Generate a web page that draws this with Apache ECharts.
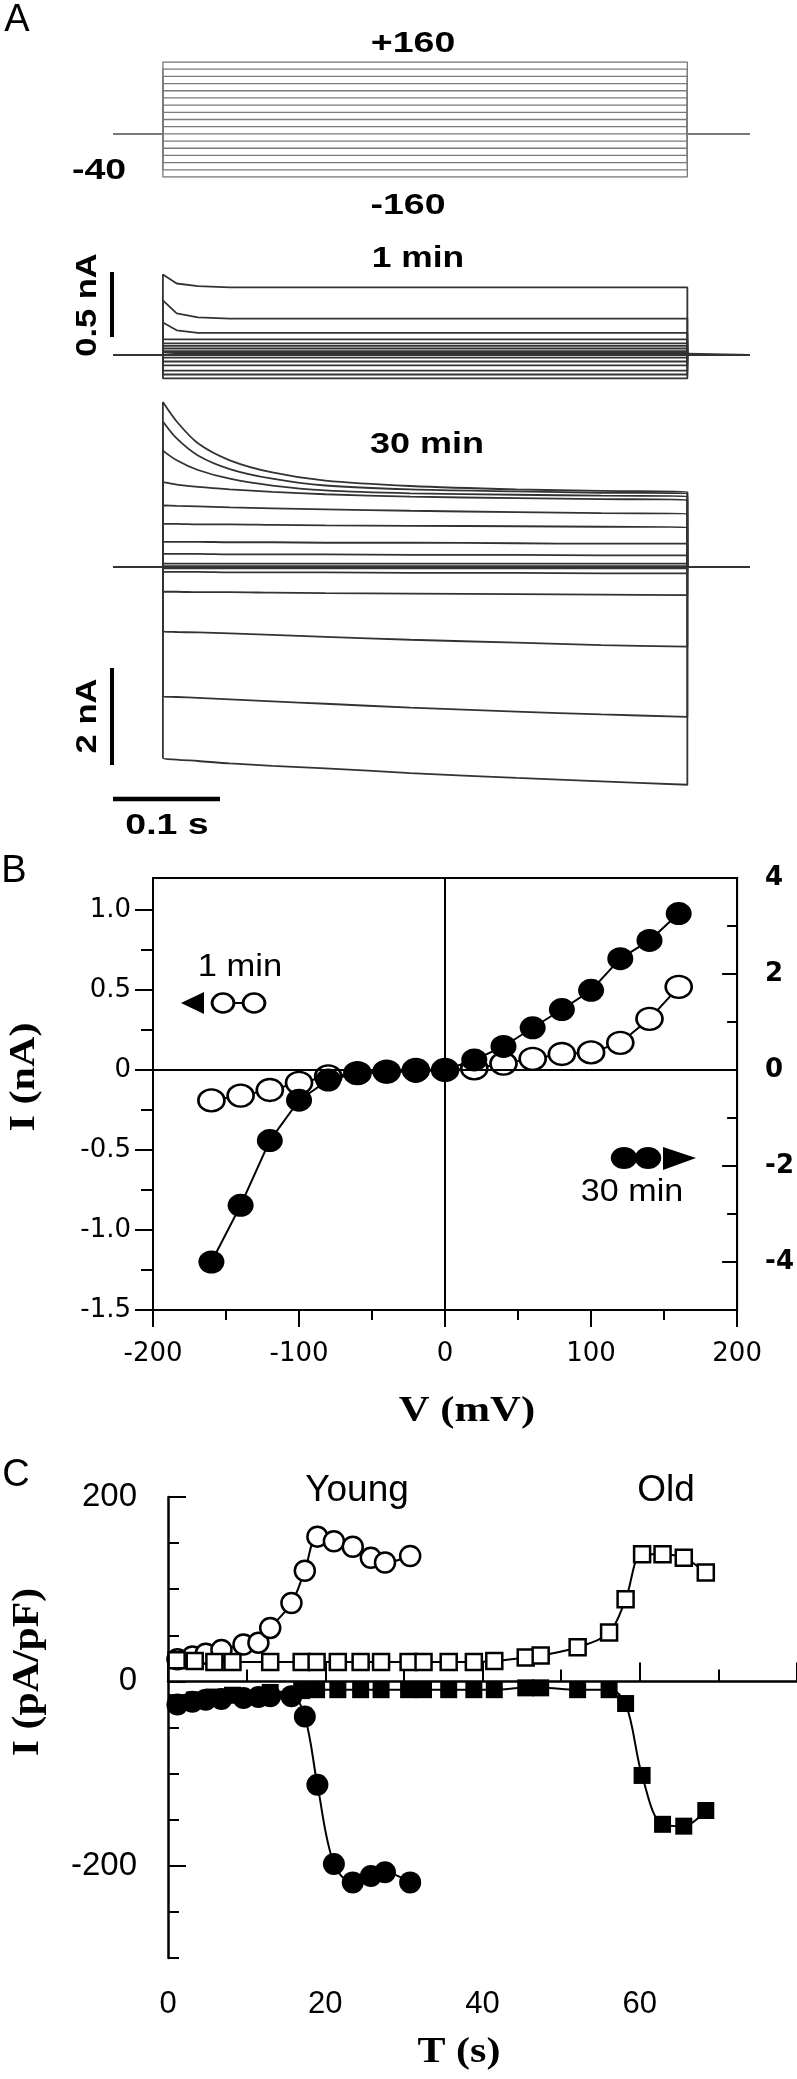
<!DOCTYPE html>
<html><head><meta charset="utf-8">
<script src="https://cdn.jsdelivr.net/npm/echarts@6/dist/echarts.min.js"></script>
<style>html,body{margin:0;padding:0;background:#fff}#c{width:797px;height:2079px}</style>
</head><body><div id="c"></div><script>
// ---------- Panel A : voltage protocol and current traces ----------
const stepVoltages = [-160,-140,-120,-100,-80,-60,-40,-20,0,20,40,60,80,100,120,140,160];
const holdingV = -40;
const protocolTimes = [0, 0.047, 0.541, 0.6];          // s : start, step on, step off, end
const sampleTimes = [0.047, 0.06, 0.08, 0.11, 0.15, 0.2, 0.28, 0.38, 0.46, 0.541];
// 1 min traces (nA), one row per step voltage
const current1min = [
  [-0.18,-0.18,-0.18,-0.18,-0.18,-0.18,-0.18,-0.18,-0.18,-0.18],
  [-0.15,-0.15,-0.15,-0.15,-0.15,-0.15,-0.15,-0.15,-0.15,-0.15],
  [-0.12,-0.12,-0.12,-0.12,-0.12,-0.12,-0.12,-0.12,-0.12,-0.12],
  [-0.08,-0.08,-0.08,-0.08,-0.08,-0.08,-0.08,-0.08,-0.08,-0.08],
  [-0.05,-0.05,-0.05,-0.05,-0.05,-0.05,-0.05,-0.05,-0.05,-0.05],
  [-0.02,-0.02,-0.02,-0.02,-0.02,-0.02,-0.02,-0.02,-0.02,-0.02],
  [0,0,0,0,0,0,0,0,0,0],
  [0.01,0.01,0.01,0.01,0.01,0.01,0.01,0.01,0.01,0.01],
  [0.02,0.02,0.02,0.02,0.02,0.02,0.02,0.02,0.02,0.02],
  [0.03,0.03,0.03,0.03,0.03,0.03,0.03,0.03,0.03,0.03],
  [0.05,0.05,0.05,0.05,0.05,0.05,0.05,0.05,0.05,0.05],
  [0.07,0.07,0.07,0.07,0.07,0.07,0.07,0.07,0.07,0.07],
  [0.09,0.09,0.09,0.09,0.09,0.09,0.09,0.09,0.09,0.09],
  [0.12,0.12,0.12,0.12,0.12,0.12,0.12,0.12,0.12,0.12],
  [0.25,0.19,0.17,0.17,0.17,0.17,0.17,0.17,0.17,0.17],
  [0.42,0.32,0.29,0.28,0.28,0.28,0.28,0.28,0.28,0.28],
  [0.62,0.55,0.53,0.52,0.52,0.52,0.52,0.52,0.52,0.52]
];
// 30 min traces (nA)
const current30min = [
  [-3.94,-3.97,-4.0,-4.05,-4.1,-4.15,-4.25,-4.35,-4.42,-4.49],
  [-2.67,-2.68,-2.7,-2.73,-2.77,-2.82,-2.9,-2.98,-3.04,-3.09],
  [-1.33,-1.34,-1.35,-1.37,-1.4,-1.44,-1.5,-1.56,-1.61,-1.64],
  [-0.51,-0.51,-0.52,-0.52,-0.53,-0.54,-0.55,-0.56,-0.57,-0.58],
  [-0.1,-0.1,-0.1,-0.11,-0.11,-0.11,-0.12,-0.12,-0.13,-0.13],
  [-0.03,-0.03,-0.03,-0.03,-0.03,-0.03,-0.03,-0.03,-0.03,-0.03],
  [0,0,0,0,0,0,0,0,0,0],
  [0.02,0.02,0.02,0.02,0.02,0.02,0.02,0.02,0.02,0.02],
  [0.07,0.07,0.07,0.07,0.07,0.07,0.07,0.07,0.07,0.07],
  [0.27,0.27,0.27,0.26,0.26,0.26,0.25,0.25,0.24,0.24],
  [0.52,0.52,0.52,0.51,0.51,0.5,0.5,0.49,0.48,0.48],
  [0.89,0.89,0.88,0.88,0.87,0.86,0.85,0.84,0.83,0.82],
  [1.27,1.26,1.25,1.23,1.21,1.19,1.16,1.13,1.11,1.1],
  [1.75,1.7,1.65,1.6,1.55,1.5,1.45,1.42,1.4,1.38],
  [2.4,2.2,2.0,1.82,1.68,1.58,1.52,1.49,1.47,1.46],
  [3.0,2.65,2.3,2.02,1.82,1.68,1.6,1.56,1.53,1.52],
  [3.4,3.0,2.55,2.2,1.95,1.78,1.67,1.6,1.57,1.55]
];

// ---------- Panel B : I-V relation ----------
const ivVoltage = [-160,-140,-120,-100,-80,-60,-40,-20,0,20,40,60,80,100,120,140,160];
const iv1min_nA = [-0.19,-0.16,-0.125,-0.08,-0.04,-0.02,-0.01,0,0,0.01,0.04,0.07,0.1,0.11,0.17,0.32,0.52];
const iv30min_nA = [-4.0,-2.82,-1.47,-0.63,-0.21,-0.07,-0.04,-0.03,0,0.21,0.49,0.88,1.26,1.66,2.32,2.7,3.26];
const ivLeftTicks = [-1.5,-1,-0.5,0,0.5,1];
const ivLeftMinor = [-1.25,-0.75,-0.25,0.25,0.75];
const ivRightTicks = [-4,-2,0,2,4];
const ivRightMinor = [-3,-1,1,3];

// ---------- Panel C : time course ----------
const youngT = [1.2,3.1,4.8,6.8,9.6,11.5,13.0,15.7,17.4,19.0,21.1,23.5,25.8,27.6,30.8];
const youngOut = [24,27,30,34,40,42,58,85,120,157,152,146,134,129,136];
const youngIn = [-25,-22,-20,-19,-18,-17,-16,-16,-38,-112,-198,-218,-211,-207,-218];
const oldT = [1.1,3.4,5.9,8.2,13.0,17.0,18.9,21.6,24.5,27.1,30.6,32.5,35.7,38.9,41.5,45.5,47.4,52.1,56.1,58.2,60.3,62.9,65.6,68.4];
const oldOut = [23,22,21,21,21,21,21,21,21,21,21,21,21,21,22,26,28,37,53,89,138,138,134,118];
const oldIn = [-23,-20,-17,-15,-12,-10,-9,-9,-9,-9,-9,-9,-9,-9,-9,-7,-7,-9,-9,-24,-102,-155,-157,-140];
const cLabelTicks = [-200,0,200];
const cMinorTicks = [-300,-250,-150,-100,-50,50,100,150];
const cTimeLabels = [0,20,40,60];

// ---------- build ----------
const zip = (a,b)=>a.map((v,i)=>[v,b[i]]);
const series = [];
stepVoltages.forEach(v=>{
  series.push({type:'line',xAxisIndex:0,yAxisIndex:0,symbol:'none',silent:true,animation:false,
    lineStyle:{color:'#7a7a7a',width:1.3},
    data:[[protocolTimes[0],holdingV],[protocolTimes[1],holdingV],[protocolTimes[1],v],[protocolTimes[2],v],[protocolTimes[2],holdingV],[protocolTimes[3],holdingV]]});
});
function traceData(vals){
  const d=[[protocolTimes[0],0],[protocolTimes[1],0]];
  sampleTimes.forEach((t,i)=>d.push([t,vals[i]]));
  d.push([protocolTimes[2],0],[protocolTimes[3],0]);
  return d;
}
current1min.forEach(r=>series.push({type:'line',xAxisIndex:1,yAxisIndex:1,symbol:'none',silent:true,animation:false,
  lineStyle:{color:'#333',width:1.8},data:traceData(r)}));
current30min.forEach(r=>series.push({type:'line',xAxisIndex:2,yAxisIndex:2,symbol:'none',silent:true,animation:false,smooth:0.3,
  lineStyle:{color:'#333',width:1.8},data:traceData(r)}));

series.push({name:'30 min',type:'line',xAxisIndex:3,yAxisIndex:5,data:zip(ivVoltage,iv30min_nA),
  symbol:'circle',symbolSize:[26,23],itemStyle:{color:'#000'},lineStyle:{color:'#000',width:2},animation:false,z:3,
  markLine:{silent:true,symbol:'none',label:{show:false},lineStyle:{color:'#000',width:2,type:'solid'},data:[{xAxis:0},{yAxis:0}],animation:false}});
series.push({name:'1 min',type:'line',xAxisIndex:3,yAxisIndex:3,data:zip(ivVoltage,iv1min_nA),
  symbol:'circle',symbolSize:[26,22],itemStyle:{color:'#fff',borderColor:'#000',borderWidth:2.5},lineStyle:{color:'#000',width:2},animation:false,z:2});

const cAx = {xAxisIndex:4,yAxisIndex:7,type:'line',animation:false,smooth:0.35,lineStyle:{color:'#000',width:2}};
series.push(Object.assign({},cAx,{name:'Young out',data:zip(youngT,youngOut),symbol:'circle',symbolSize:20,itemStyle:{color:'#fff',borderColor:'#000',borderWidth:2.5}}));
series.push(Object.assign({},cAx,{name:'Young in',data:zip(youngT,youngIn),symbol:'circle',symbolSize:22,itemStyle:{color:'#000'}}));
series.push(Object.assign({},cAx,{name:'Old out',data:zip(oldT,oldOut),symbol:'rect',symbolSize:16,itemStyle:{color:'#fff',borderColor:'#000',borderWidth:2.5}}));
series.push(Object.assign({},cAx,{name:'Old in',data:zip(oldT,oldIn),symbol:'rect',symbolSize:17,itemStyle:{color:'#000'}}));

const hidden = (g,min,max)=>({gridIndex:g,type:'value',min,max,show:false});
const blk = {color:'#000',width:2};
const sansB = 'DejaVu Sans';
const option = {
  animation:false,
  grid:[
    {left:113,width:637,top:62,height:115},
    {left:113,width:637,top:225,height:260},
    {left:113,width:637,top:324.5,height:485},
    {left:153,width:587,top:878,height:432,show:true,borderColor:'#000',borderWidth:2,backgroundColor:'transparent'},
    {left:168,width:629,top:1497,height:461}
  ],
  xAxis:[
    hidden(0,0,0.6),hidden(1,0,0.6),hidden(2,0,0.6),
    {gridIndex:3,type:'value',min:-200,max:200,interval:100,position:'bottom',
      axisLine:{onZero:false,lineStyle:blk},axisTick:{length:17,lineStyle:blk},
      minorTick:{show:true,splitNumber:2,length:10,lineStyle:blk},splitLine:{show:false},
      axisLabel:{color:'#000',fontFamily:sansB,fontSize:26,margin:31}},
    {gridIndex:4,type:'value',min:0,max:80,interval:20,
      axisLine:{onZero:true,lineStyle:{color:'#000',width:2.5}},axisTick:{inside:true,length:19,lineStyle:blk},
      minorTick:{show:true,splitNumber:2,length:12,lineStyle:blk},splitLine:{show:false},axisLabel:{show:false}},
    {gridIndex:4,type:'value',min:0,max:80,position:'bottom',axisLine:{show:false,onZero:false},axisTick:{show:false},splitLine:{show:false},
      axisLabel:{customValues:cTimeLabels,color:'#000',fontFamily:'Liberation Sans',fontSize:31,margin:31}}
  ],
  yAxis:[
    hidden(0,-160,160),hidden(1,-1,1),hidden(2,-5,5),
    {gridIndex:3,type:'value',min:-1.5,max:1.2,position:'left',axisLine:{onZero:false,lineStyle:blk},
      axisTick:{customValues:ivLeftTicks,length:18,lineStyle:blk},splitLine:{show:false},
      axisLabel:{customValues:ivLeftTicks,color:'#000',fontFamily:sansB,fontSize:26,margin:22,formatter:v=>v===0?'0':v.toFixed(1)}},
    {gridIndex:3,type:'value',min:-1.5,max:1.2,position:'left',axisLine:{show:false,onZero:false},
      axisTick:{customValues:ivLeftMinor,length:12,lineStyle:blk},splitLine:{show:false},axisLabel:{show:false}},
    {gridIndex:3,type:'value',min:-5,max:4,position:'right',axisLine:{onZero:false,lineStyle:blk},
      axisTick:{customValues:ivRightTicks,inside:true,length:15,lineStyle:blk},splitLine:{show:false},
      axisLabel:{customValues:ivRightTicks,color:'#000',fontFamily:sansB,fontWeight:'bold',fontSize:26,margin:28}},
    {gridIndex:3,type:'value',min:-5,max:4,position:'right',axisLine:{show:false,onZero:false},
      axisTick:{customValues:ivRightMinor,inside:true,length:10,lineStyle:blk},splitLine:{show:false},axisLabel:{show:false}},
    {gridIndex:4,type:'value',min:-300,max:200,position:'left',axisLine:{onZero:false,lineStyle:{color:'#000',width:2.5}},
      axisTick:{customValues:cLabelTicks,inside:true,length:18,lineStyle:blk},splitLine:{show:false},
      axisLabel:{customValues:cLabelTicks,color:'#000',fontFamily:'Liberation Sans',fontSize:33,margin:31}},
    {gridIndex:4,type:'value',min:-300,max:200,position:'left',axisLine:{show:false,onZero:false},
      axisTick:{customValues:cMinorTicks,inside:true,length:11,lineStyle:blk},splitLine:{show:false},axisLabel:{show:false}}
  ],
  series
};

// annotations
const T = (text,x,y,font,sx,rot)=>({type:'text',x,y,rotation:rot||0,scaleX:sx||1,silent:true,
  style:{text,font,fill:'#000',textAlign:'center',textVerticalAlign:'middle',align:'center',verticalAlign:'middle'}});
const L = (x1,y1,x2,y2,w)=>({type:'line',silent:true,shape:{x1,y1,x2,y2},style:{stroke:'#000',lineWidth:w}});
const fA = 'bold 30px "Liberation Sans"';
const R = Math.PI/2;
option.graphic = [
  T('A',17,21,'38px "Liberation Sans"'),
  T('+160',413,44,fA,1.25), T('-160',408,206,fA,1.25), T('-40',99,171,fA,1.25),
  T('1 min',418,259,fA,1.18), T('0.5 nA',88,305,fA,1.15,R),
  T('30 min',427,445,fA,1.2), T('2 nA',88,716,fA,1.15,R), T('0.1 s',167,826,fA,1.25),
  L(112,272,112,337,4), L(112,668,112,765,4), L(113,799,220,799,4.5),
  T('B',14,872,'38px "Liberation Sans"'),
  T('I (nA)',25,1077,'bold 36px "Liberation Serif"',1.17,R), T('V (mV)',467,1412,'bold 35px "Liberation Serif"',1.22),
  T('1 min',240,967,'32px "Liberation Sans"',1.08),
  {type:'polygon',silent:true,shape:{points:[[181,1003],[204,992],[204,1014]]},style:{fill:'#000'}},
  L(223,1003,254,1003,2),
  {type:'circle',silent:true,x:223,y:1003,scaleX:1.15,shape:{cx:0,cy:0,r:9.5},style:{fill:'#fff',stroke:'#000',lineWidth:2.5}},
  {type:'circle',silent:true,x:254,y:1003,scaleX:1.15,shape:{cx:0,cy:0,r:9.5},style:{fill:'#fff',stroke:'#000',lineWidth:2.5}},
  T('30 min',632,1192,'31px "Liberation Sans"',1.1),
  {type:'circle',silent:true,x:624,y:1158,scaleX:1.2,shape:{cx:0,cy:0,r:11},style:{fill:'#000'}},
  {type:'circle',silent:true,x:648,y:1158,scaleX:1.2,shape:{cx:0,cy:0,r:11},style:{fill:'#000'}},
  {type:'polygon',silent:true,shape:{points:[[663,1147],[696,1158],[663,1170]]},style:{fill:'#000'}},
  T('C',16,1476,'38px "Liberation Sans"'),
  T('Young',357,1491,'37px "Liberation Sans"'), T('Old',666,1491,'37px "Liberation Sans"'),
  T('I (pA/pF)',28,1672,'bold 38px "Liberation Serif"',1.1,R), T('T (s)',459,2053,'bold 35px "Liberation Serif"',1.2)
];
const chart = echarts.init(document.getElementById('c'),null,{renderer:'canvas'});
chart.setOption(option);
</script></body></html>
